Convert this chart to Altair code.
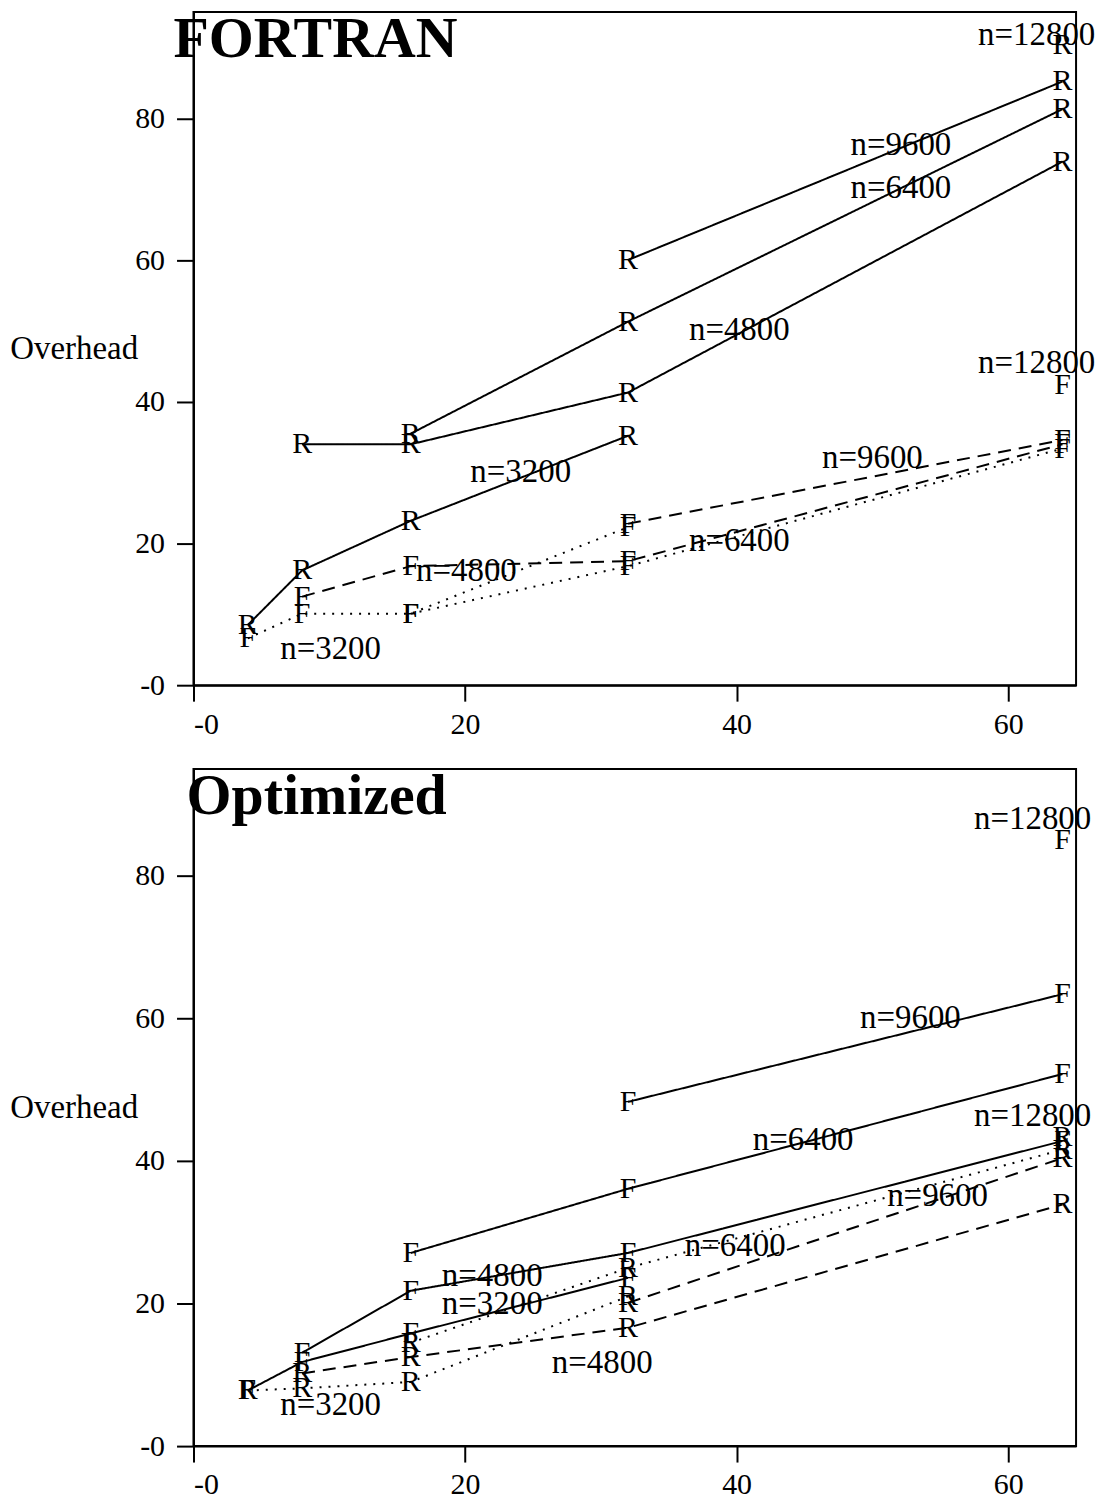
import altair as alt
import pandas as pd

# processor counts (x) shared by all series
PROCS = [4, 8, 16, 32, 64]

# ---------- FORTRAN panel (top) ----------
# "R" runs, solid lines (None = no measurement)
TOP_R_3200 = [8.5, 16.2, 23.2, 35.2, None]
TOP_R_4800 = [None, 34.0, 34.0, 41.3, 73.9]
TOP_R_6400 = [None, None, 35.5, 51.3, 81.3]
TOP_R_9600 = [None, None, None, 60.0, 85.2]
TOP_R_12800 = [None, None, None, None, 90.4]
# "F" runs, dashed / dotted lines
TOP_F_3200 = [6.6, 10.1, 10.1, 22.3, None]
TOP_F_4800 = [None, 12.5, 16.8, 17.5, 34.0]
TOP_F_6400 = [None, None, 10.1, 16.8, 33.4]
TOP_F_9600 = [None, None, None, 22.8, 34.6]
TOP_F_12800 = [None, None, None, None, 42.3]

TOP_LABEL_TEXT = ["n=3200", "n=4800", "n=6400", "n=9600", "n=12800",
                  "n=3200", "n=4800", "n=6400", "n=9600", "n=12800"]
TOP_LABEL_X = [24.1, 40.2, 52.1, 52.1, 62.1, 10.1, 20.1, 40.2, 50.0, 62.1]
TOP_LABEL_Y = [30.1, 50.1, 70.1, 76.2, 91.8, 5.1, 16.1, 20.3, 32.0, 45.4]

# ---------- Optimized panel (bottom) ----------
# "F" runs, solid lines
BOT_F_3200 = [7.8, 11.8, 15.8, 23.6, None]
BOT_F_4800 = [None, 13.1, 21.8, 27.1, 42.8]
BOT_F_6400 = [None, None, 27.1, 36.1, 52.2]
BOT_F_9600 = [None, None, None, 48.3, 63.4]
BOT_F_12800 = [None, None, None, None, 85.0]
# "R" runs, dashed / dotted lines
BOT_R_3200 = [7.8, 8.1, 9.0, 21.0, None]
BOT_R_4800 = [None, 10.2, 12.5, 16.6, 33.9]
BOT_R_6400 = [None, None, 14.5, 25.0, 41.6]
BOT_R_9600 = [None, None, None, 20.1, 40.4]
BOT_R_12800 = [None, None, None, None, 43.3]

BOT_LABEL_TEXT = ["n=12800", "n=9600", "n=6400", "n=4800", "n=3200",
                  "n=12800", "n=9600", "n=6400", "n=4800", "n=3200"]
BOT_LABEL_X = [61.8, 52.8, 44.9, 22.0, 22.0, 61.8, 54.8, 39.9, 30.1, 10.1]
BOT_LABEL_Y = [88.0, 60.0, 42.9, 23.8, 19.9, 46.3, 35.1, 28.0, 11.7, 5.7]

SIZES = [3200, 4800, 6400, 9600, 12800]
STYLE_BY_SIZE = ["dotted", "dashed", "dotted", "dashed", "dotted"]

FONT = "Liberation Serif"
X_DOMAIN = [0, 65]
Y_DOMAIN = [0, 95]
W = 885


def build_rows(glyph, series_lists, solid):
    rows = []
    for size, style, vals in zip(SIZES, STYLE_BY_SIZE, series_lists):
        for p, v in zip(PROCS, vals):
            if v is None:
                continue
            rows.append({
                "series": f"{glyph}{size}",
                "glyph": glyph,
                "style": "solid" if solid else style,
                "procs": p,
                "overhead": v,
            })
    return rows


def panel(title, title_dx, height, rows, lab_text, lab_x, lab_y):
    df = pd.DataFrame(rows)
    xs = alt.Scale(domain=X_DOMAIN, nice=False, zero=False)
    ys = alt.Scale(domain=Y_DOMAIN, nice=False, zero=False)
    xax = alt.Axis(values=[0, 20, 40, 60], labelExpr="datum.value == 0 ? '-0' : datum.label",
                   tickSize=16, labelPadding=8, grid=False, title=None,
                   labelFont=FONT, labelFontSize=30, labelColor="black",
                   domainColor="black", domainWidth=2, tickColor="black", tickWidth=2)
    yax = alt.Axis(values=[0, 20, 40, 60, 80], labelExpr="datum.value == 0 ? '-0' : datum.label",
                   tickSize=17, labelPadding=12, grid=False, title="Overhead",
                   labelFont=FONT, labelFontSize=30, labelColor="black",
                   domainColor="black", domainWidth=2, tickColor="black", tickWidth=2,
                   titleAngle=0, titleAlign="right", titleBaseline="middle",
                   titleX=-56, titleY=height / 2, titleFont=FONT, titleFontSize=33,
                   titleFontWeight="normal", titleColor="black")
    base = alt.Chart(df)
    lines = base.mark_line(color="black", strokeWidth=2).encode(
        x=alt.X("procs:Q", scale=xs, axis=xax),
        y=alt.Y("overhead:Q", scale=ys, axis=yax),
        detail="series:N",
        strokeDash=alt.StrokeDash(
            "style:N",
            scale=alt.Scale(domain=["solid", "dashed", "dotted"],
                            range=[[1, 0], [13, 8], [2, 7]]),
            legend=None),
    )
    glyphs = base.mark_text(font=FONT, fontSize=30, color="black",
                            baseline="middle", align="center").encode(
        x=alt.X("procs:Q", scale=xs),
        y=alt.Y("overhead:Q", scale=ys),
        text="glyph:N",
    )
    ldf = pd.DataFrame({"t": lab_text, "x": lab_x, "y": lab_y})
    labels = alt.Chart(ldf).mark_text(font=FONT, fontSize=33, color="black",
                                      baseline="middle", align="center").encode(
        x=alt.X("x:Q", scale=xs),
        y=alt.Y("y:Q", scale=ys),
        text="t:N",
    )
    tdf = pd.DataFrame({"t": [title]})
    ttl = alt.Chart(tdf).mark_text(font=FONT, fontSize=58, fontWeight="bold",
                                   color="black", align="left",
                                   baseline="alphabetic").encode(
        text="t:N", x=alt.value(title_dx), y=alt.value(45))
    return alt.layer(lines, glyphs, labels, ttl).properties(width=W, height=height)


top_rows = (build_rows("R", [TOP_R_3200, TOP_R_4800, TOP_R_6400, TOP_R_9600, TOP_R_12800], True)
            + build_rows("F", [TOP_F_3200, TOP_F_4800, TOP_F_6400, TOP_F_9600, TOP_F_12800], False))
bot_rows = (build_rows("F", [BOT_F_3200, BOT_F_4800, BOT_F_6400, BOT_F_9600, BOT_F_12800], True)
            + build_rows("R", [BOT_R_3200, BOT_R_4800, BOT_R_6400, BOT_R_9600, BOT_R_12800], False))

top = panel("FORTRAN", -20, 675, top_rows, TOP_LABEL_TEXT, TOP_LABEL_X, TOP_LABEL_Y)
bot = panel("Optimized", -7, 679, bot_rows, BOT_LABEL_TEXT, BOT_LABEL_X, BOT_LABEL_Y)

chart = alt.vconcat(top, bot, spacing=27).properties(
    padding=0, background="white"
).configure_view(stroke="black", strokeWidth=2)

chart.save("out.html", embed_options={"renderer": "svg", "actions": False})
